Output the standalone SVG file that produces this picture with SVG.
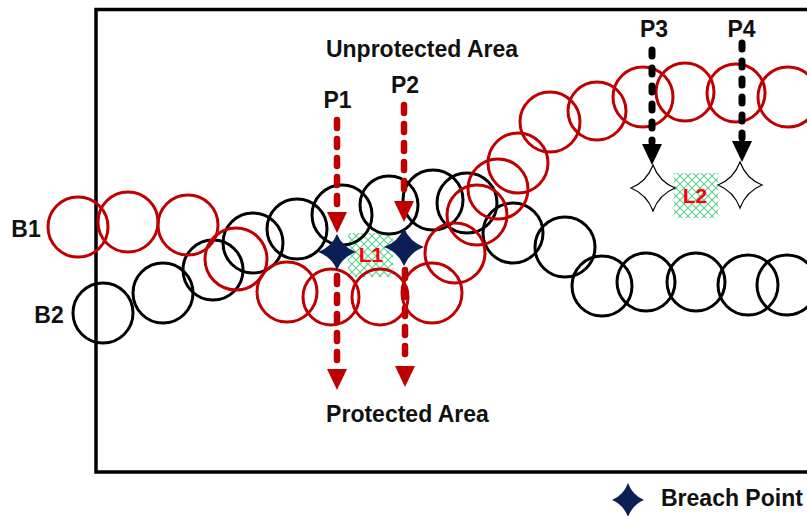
<svg xmlns="http://www.w3.org/2000/svg" width="807" height="516" viewBox="0 0 807 516">
  <style>
    .frame { fill: none; stroke: #000; stroke-width: 3.5; }
    .b1 circle { fill: none; stroke: #c00000; stroke-width: 3; }
    .b2 circle { fill: none; stroke: #000; stroke-width: 3; }
    .lbl { font-family: "Liberation Sans", Arial, sans-serif; font-weight: bold; font-size: 23px; fill: #111; }
    .mid { text-anchor: middle; }
    .loss { font-family: "Liberation Sans", Arial, sans-serif; font-weight: bold; font-size: 21px; fill: #f00; text-anchor: middle; }
    .red-dash { stroke: #c00000; stroke-width: 6.5; stroke-linecap: round; stroke-dasharray: 8 11; fill: none; }
    .blk-dash { stroke: #000; stroke-width: 7; stroke-linecap: round; stroke-dasharray: 6 12; fill: none; }
    .head-red { fill: #c00000; }
    .head-blk { fill: #000; }
    .breach { fill: #0a1f55; }
    .probe { fill: #fff; stroke: #000; stroke-width: 0.055; }
  </style>
  <defs>
    <pattern id="hatch" patternUnits="userSpaceOnUse" width="8" height="8">
      <path d="M0,0 L8,8 M8,0 L0,8" stroke="#5ccf8f" stroke-width="1.1"/>
    </pattern>
    <!-- downward arrowhead, tip at origin -->
    <path id="head" d="M-10,-21 L10,-21 L0,0 Z"/>
    <!-- four-pointed star, unit radius -->
    <path id="star" d="M0,-1 Q0.28,-0.28 1,0 Q0.28,0.28 0,1 Q-0.28,0.28 -1,0 Q-0.28,-0.28 0,-1 Z"/>
  </defs>

  <rect fill="#fff" x="0" y="0" width="807" height="516"/>

  <!-- field boundary -->
  <rect class="frame" x="96" y="9.5" width="780" height="462.5"/>

  <!-- area labels -->
  <text class="lbl mid" x="422" y="57">Unprotected Area</text>
  <text class="lbl mid" x="407.5" y="422">Protected Area</text>

  <!-- coverage gaps -->
  <g id="gap-L1">
    <rect x="348" y="233" width="45" height="44" fill="url(#hatch)"/>
  </g>
  <g id="gap-L2">
    <rect x="674" y="173" width="44" height="45" fill="url(#hatch)"/>
  </g>

  <!-- barrier B2 (black sensor ring chain) -->
  <g id="barrier-B2" class="b2">
    <circle cx="103" cy="313" r="30"/>
    <circle cx="163" cy="293" r="30"/>
    <circle cx="213" cy="270" r="30"/>
    <circle cx="253" cy="243" r="30"/>
    <circle cx="297" cy="229" r="30"/>
    <circle cx="342" cy="215" r="30"/>
    <circle cx="389" cy="205" r="29"/>
    <circle cx="433" cy="200" r="30"/>
    <circle cx="467" cy="203" r="30"/>
    <circle cx="513" cy="233" r="30"/>
    <circle cx="565" cy="247" r="30"/>
    <circle cx="602" cy="286" r="30"/>
    <circle cx="646" cy="282" r="29"/>
    <circle cx="696" cy="282" r="29"/>
    <circle cx="748" cy="285" r="30"/>
    <circle cx="787" cy="285" r="30"/>
  </g>

  <!-- barrier B1 (red sensor ring chain) -->
  <g id="barrier-B1" class="b1">
    <circle cx="78" cy="227" r="30"/>
    <circle cx="128" cy="222" r="30"/>
    <circle cx="188" cy="225" r="30"/>
    <circle cx="236" cy="259" r="31"/>
    <circle cx="287" cy="292" r="30"/>
    <circle cx="331" cy="297" r="28"/>
    <circle cx="380" cy="297" r="28"/>
    <circle cx="432" cy="293" r="30"/>
    <circle cx="455" cy="253" r="30"/>
    <circle cx="477" cy="215" r="30"/>
    <circle cx="498" cy="189" r="30"/>
    <circle cx="518" cy="163" r="30"/>
    <circle cx="550" cy="122" r="30"/>
    <circle cx="597" cy="111" r="29"/>
    <circle cx="643" cy="97" r="30"/>
    <circle cx="685" cy="92" r="29"/>
    <circle cx="736" cy="93" r="29"/>
    <circle cx="788" cy="97" r="30"/>
  </g>

  <!-- barrier labels -->
  <text class="lbl mid" x="26" y="237">B1</text>
  <text class="lbl mid" x="49" y="323">B2</text>

  <!-- intrusion paths -->
  <g id="connectors">
    <line class="red-dash" x1="337" y1="120" x2="337" y2="210"/>
    <use href="#head" class="head-red" x="337" y="233"/>
    <line class="red-dash" x1="337" y1="276" x2="337" y2="366"/>
    <use href="#head" class="head-red" x="337" y="390"/>
    <line class="red-dash" x1="404" y1="105" x2="404" y2="198"/>
    <use href="#head" class="head-red" x="404" y="222"/>
    <line class="red-dash" x1="405" y1="270" x2="405" y2="362"/>
    <use href="#head" class="head-red" x="405" y="387"/>
    <line class="blk-dash" x1="652" y1="50" x2="652" y2="142"/>
    <use href="#head" class="head-blk" x="652" y="165"/>
    <line class="blk-dash" x1="742" y1="43" x2="742" y2="138"/>
    <use href="#head" class="head-blk" x="742" y="162"/>
  </g>

  <!-- path labels -->
  <text class="lbl mid" x="337.5" y="108">P1</text>
  <text class="lbl mid" x="405" y="93">P2</text>
  <text class="lbl mid" x="654" y="37">P3</text>
  <text class="lbl mid" x="741.5" y="37">P4</text>

  <!-- breach points -->
  <g id="breach-1">
    <use href="#star" class="breach" transform="translate(337,252) scale(19,18)"/>
  </g>
  <g id="breach-2">
    <use href="#star" class="breach" transform="translate(404,247) scale(20,19)"/>
  </g>

  <!-- non-breach crossing points -->
  <g id="cross-P3">
    <use href="#star" class="probe" transform="translate(653,188) scale(22,23)"/>
  </g>
  <g id="cross-P4">
    <use href="#star" class="probe" transform="translate(740,185) scale(22,23)"/>
  </g>

  <!-- gap labels -->
  <text class="loss" x="371" y="262">L1</text>
  <text class="loss" x="695" y="203">L2</text>

  <!-- legend -->
  <g id="legend">
    <use href="#star" class="breach" transform="translate(628,500) scale(16,17)"/>
    <text class="lbl" x="661" y="506">Breach Point</text>
  </g>
</svg>
